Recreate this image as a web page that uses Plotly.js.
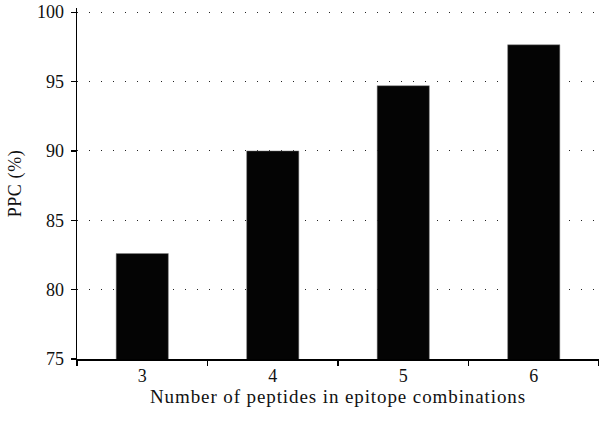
<!DOCTYPE html>
<html>
<head>
<meta charset="utf-8">
<script src="https://cdn.plot.ly/plotly-3.0.1.min.js"></script>
<style>
html,body{margin:0;padding:0;background:#fff;}
#chart{width:599px;height:423px;}
#chart .xtitle{letter-spacing:0.9px;}
#chart .ytitle{letter-spacing:0.6px;}
</style>
</head>
<body>
<div id="chart"></div>
<script>
var categories = ["3", "4", "5", "6"];
var ppcValues = [82.6, 90.0, 94.7, 97.65];
var yTicks = [75, 80, 85, 90, 95, 100];

var fontFamily = "Liberation Serif, DejaVu Serif, serif";

var data = [{
  type: "bar",
  x: categories,
  y: ppcValues,
  marker: {color: "#040404", line: {color: "#888", width: 0.5}},
  width: 0.4,
  hoverinfo: "none"
}];

var layout = {
  width: 599,
  height: 423,
  margin: {l: 77, r: 0, t: 8, b: 64},
  paper_bgcolor: "#fff",
  plot_bgcolor: "#fff",
  showlegend: false,
  font: {family: fontFamily, color: "#111", size: 18},
  xaxis: {
    type: "category",
    tickson: "boundaries",
    ticks: "outside",
    ticklen: 5,
    tickwidth: 1.3,
    tickcolor: "#000",
    showline: true,
    linecolor: "#000",
    linewidth: 1.5,
    showgrid: false,
    zeroline: false,
    tickfont: {family: fontFamily, size: 18, color: "#111"},
    title: {text: "Number of peptides in epitope combinations", font: {family: fontFamily, size: 19, color: "#111"}, standoff: 4}
  },
  yaxis: {
    range: [75, 100.3],
    tickvals: yTicks,
    ticktext: yTicks.map(String),
    ticks: "outside",
    ticklen: 5,
    tickwidth: 1.3,
    tickcolor: "#000",
    ticklabelstandoff: 3,
    showline: true,
    linecolor: "#000",
    linewidth: 1.5,
    showgrid: true,
    gridcolor: "#222",
    gridwidth: 1,
    griddash: "1px,11px",
    zeroline: false,
    tickfont: {family: fontFamily, size: 18, color: "#111"},
    title: {text: "PPC (%)", font: {family: fontFamily, size: 18, color: "#111"}, standoff: 10}
  }
};

Plotly.newPlot("chart", data, layout, {displayModeBar: false, staticPlot: true});
</script>
</body>
</html>
